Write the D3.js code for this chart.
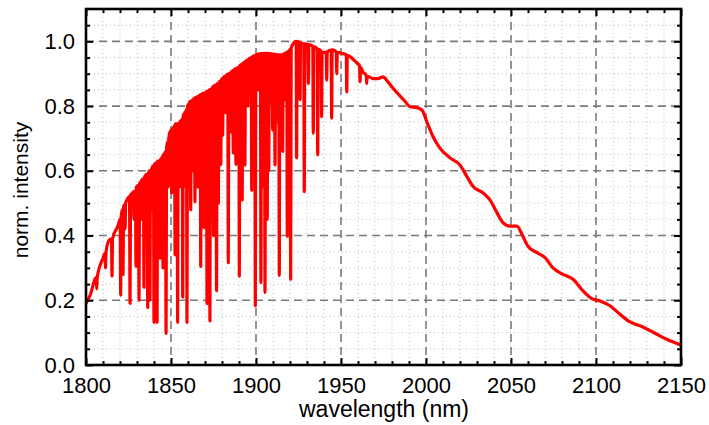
<!DOCTYPE html>
<html>
<head>
<meta charset="utf-8">
<script src="https://cdn.jsdelivr.net/npm/d3@7"></script>
<style>
  body { margin: 0; background: #fff; }
  svg { display: block; font-family: "Liberation Sans", Arial, sans-serif; }
</style>
</head>
<body>
<svg id="chart" width="709" height="425"></svg>
<script>
// spectrum: [wavelength nm, normalised intensity]
// absorption band region (water lines), dips written out point by point
const bandRegion = [
  [1800.0, 0.19], [1802.4, 0.215],
  [1806.0, 0.27], [1806.3, 0.235], [1806.6, 0.27],
  [1810.0, 0.33],
  [1811.2, 0.345], [1811.5, 0.30], [1811.8, 0.35],
  [1813.5, 0.385],
  [1815.0, 0.39], [1815.3, 0.275], [1815.6, 0.39],
  [1818.8, 0.43],
  [1820.1, 0.45], [1820.4, 0.216], [1820.7, 0.46],
  [1821.5, 0.48], [1821.8, 0.28], [1822.1, 0.49],
  [1822.7, 0.495], [1823.0, 0.42], [1823.3, 0.50],
  [1824.1, 0.51],
  [1825.6, 0.52], [1825.9, 0.19], [1826.2, 0.525],
  [1827.1, 0.53],
  [1827.9, 0.535], [1828.2, 0.45], [1828.5, 0.535],
  [1829.1, 0.54], [1829.4, 0.305], [1829.7, 0.55],
  [1830.9, 0.555], [1831.2, 0.20], [1831.5, 0.56],
  [1832.0, 0.565], [1832.3, 0.45], [1832.6, 0.57],
  [1833.8, 0.575], [1834.1, 0.24], [1834.4, 0.58],
  [1836.0, 0.59], [1836.3, 0.178], [1836.6, 0.59],
  [1837.3, 0.60], [1837.6, 0.20], [1837.9, 0.60],
  [1838.0, 0.60], [1838.3, 0.48], [1838.6, 0.605],
  [1839.7, 0.615], [1840.0, 0.132], [1840.3, 0.62],
  [1841.5, 0.625], [1841.8, 0.132], [1842.1, 0.63],
  [1842.4, 0.63], [1842.7, 0.50], [1843.0, 0.63],
  [1843.2, 0.63], [1843.5, 0.33], [1843.8, 0.635],
  [1844.7, 0.64],
  [1845.0, 0.645], [1845.3, 0.30], [1845.6, 0.65],
  [1845.8, 0.652], [1846.1, 0.50], [1846.4, 0.655],
  [1846.8, 0.66], [1847.1, 0.098], [1847.4, 0.67],
  [1848.1, 0.69], [1848.4, 0.55], [1848.7, 0.70],
  [1849.4, 0.72],
  [1850.1, 0.725], [1850.4, 0.532], [1850.7, 0.73],
  [1851.1, 0.732], [1851.4, 0.55], [1851.7, 0.735],
  [1852.1, 0.74], [1852.4, 0.34], [1852.7, 0.745],
  [1853.6, 0.745], [1853.9, 0.132], [1854.2, 0.745],
  [1854.5, 0.747], [1854.8, 0.55], [1855.1, 0.75],
  [1855.9, 0.755], [1856.2, 0.55], [1856.5, 0.758],
  [1856.6, 0.76], [1856.9, 0.21], [1857.2, 0.77],
  [1857.5, 0.775], [1857.8, 0.625], [1858.1, 0.78],
  [1858.4, 0.782], [1858.7, 0.55], [1859.0, 0.786],
  [1859.1, 0.79], [1859.4, 0.132], [1859.7, 0.80],
  [1860.2, 0.805], [1860.5, 0.55], [1860.8, 0.81],
  [1861.3, 0.815], [1861.6, 0.48], [1861.9, 0.815],
  [1862.5, 0.818], [1862.8, 0.60], [1863.1, 0.82],
  [1863.8, 0.825], [1864.1, 0.505], [1864.4, 0.825],
  [1864.9, 0.827], [1865.2, 0.55], [1865.5, 0.828],
  [1866.0, 0.83], [1866.3, 0.55], [1866.6, 0.832],
  [1867.2, 0.835], [1867.5, 0.305], [1867.8, 0.835],
  [1868.1, 0.837], [1868.4, 0.60], [1868.7, 0.838],
  [1869.1, 0.84], [1869.4, 0.425], [1869.7, 0.84],
  [1869.8, 0.84], [1870.1, 0.60], [1870.4, 0.842],
  [1870.9, 0.845], [1871.2, 0.19], [1871.5, 0.845],
  [1871.8, 0.847], [1872.1, 0.60], [1872.4, 0.848],
  [1872.6, 0.85], [1872.9, 0.136], [1873.2, 0.85],
  [1873.7, 0.853], [1874.0, 0.60], [1874.3, 0.855],
  [1874.7, 0.86], [1875.0, 0.40], [1875.3, 0.862],
  [1876.5, 0.865], [1876.8, 0.23], [1877.1, 0.867],
  [1877.6, 0.87], [1877.9, 0.50], [1878.2, 0.873],
  [1879.0, 0.877], [1879.3, 0.62], [1879.6, 0.88],
  [1880.1, 0.885], [1880.4, 0.71], [1880.7, 0.887],
  [1881.7, 0.892], [1882.0, 0.78], [1882.3, 0.894],
  [1883.4, 0.898], [1883.7, 0.316], [1884.0, 0.90],
  [1884.9, 0.903], [1885.2, 0.72], [1885.5, 0.905],
  [1886.3, 0.91], [1886.6, 0.655], [1886.9, 0.91],
  [1887.9, 0.915], [1888.2, 0.62], [1888.5, 0.916],
  [1889.9, 0.92], [1890.2, 0.275], [1890.5, 0.925],
  [1891.6, 0.928], [1891.9, 0.51], [1892.2, 0.93],
  [1893.2, 0.935], [1893.5, 0.618], [1893.8, 0.938],
  [1895.0, 0.942], [1895.3, 0.80], [1895.6, 0.944],
  [1897.2, 0.95], [1897.5, 0.54], [1897.8, 0.952],
  [1898.3, 0.954], [1898.6, 0.70], [1898.9, 0.955],
  [1899.3, 0.957], [1899.6, 0.183], [1899.9, 0.958],
  [1900.8, 0.96], [1901.1, 0.85], [1901.4, 0.96],
  [1902.6, 0.962], [1902.9, 0.255], [1903.2, 0.962],
  [1903.8, 0.962], [1904.1, 0.55], [1904.4, 0.962],
  [1905.0, 0.963], [1905.3, 0.224], [1905.6, 0.963],
  [1906.3, 0.963], [1906.6, 0.45], [1906.9, 0.963],
  [1907.2, 0.963], [1907.5, 0.60], [1907.8, 0.962],
  [1908.3, 0.962], [1908.6, 0.81], [1908.9, 0.962],
  [1909.5, 0.961], [1909.8, 0.726], [1910.1, 0.961],
  [1910.9, 0.96], [1911.2, 0.618], [1911.5, 0.96],
  [1912.1, 0.959], [1912.4, 0.75], [1912.7, 0.959],
  [1913.4, 0.958], [1913.7, 0.277], [1914.0, 0.958],
  [1915.4, 0.958], [1915.7, 0.66], [1916.0, 0.96],
  [1916.7, 0.962], [1917.0, 0.82], [1917.3, 0.963],
  [1918.1, 0.965], [1918.4, 0.398], [1918.7, 0.968],
  [1919.1, 0.97], [1919.4, 0.72], [1919.7, 0.972],
  [1920.1, 0.975], [1920.4, 0.265], [1920.7, 0.98],
  [1923.5, 1.0],
  [1923.6, 1.0], [1923.9, 0.64], [1924.2, 1.0],
  [1925.6, 0.996], [1925.9, 0.82], [1926.2, 0.995],
  [1928.1, 0.993], [1928.4, 0.536], [1928.7, 0.992],
  [1930.5, 0.99], [1930.8, 0.87], [1931.1, 0.99],
  [1933.4, 0.985], [1933.7, 0.716], [1934.0, 0.984],
  [1936.0, 0.977], [1936.3, 0.65], [1936.6, 0.975],
  [1938.3, 0.97], [1938.6, 0.767], [1938.9, 0.967],
  [1941.3, 0.966], [1941.6, 0.88], [1941.9, 0.968],
  [1944.2, 0.973], [1944.5, 0.763], [1944.8, 0.974],
  [1947.2, 0.968], [1947.5, 0.90], [1947.8, 0.966],
  [1951.2, 0.962],
  [1953.1, 0.958], [1953.4, 0.844], [1953.7, 0.957],
  [1957.1, 0.945], [1960.0, 0.93],
  [1960.9, 0.925], [1961.2, 0.875], [1961.5, 0.92],
  [1962.9, 0.905],
  [1964.8, 0.895], [1965.1, 0.87], [1965.4, 0.893]
];

// smooth falling tail
const tailRegion = [
  [1968.8, 0.885], [1971.8, 0.885], [1974.7, 0.89], [1977.6, 0.875],
  [1980.6, 0.855], [1984.1, 0.835], [1987.6, 0.815], [1990.6, 0.798],
  [1994.1, 0.796], [1997.6, 0.788], [2000.6, 0.75], [2004.1, 0.706],
  [2008.2, 0.67], [2014.1, 0.64], [2020.0, 0.618], [2024.1, 0.582],
  [2027.6, 0.552], [2033.5, 0.532], [2037.6, 0.51], [2041.8, 0.47],
  [2045.3, 0.44], [2049.4, 0.429], [2053.5, 0.429], [2056.5, 0.403],
  [2060.0, 0.367], [2065.3, 0.347], [2070.0, 0.332], [2074.7, 0.30],
  [2080.6, 0.28], [2086.5, 0.265], [2092.4, 0.229], [2097.6, 0.205],
  [2102.4, 0.198], [2108.2, 0.183], [2114.1, 0.157], [2120.0, 0.133],
  [2125.9, 0.121], [2131.8, 0.106], [2137.6, 0.09], [2143.5, 0.075],
  [2150.0, 0.062]
];

const xTicks = [1800, 1850, 1900, 1950, 2000, 2050, 2100, 2150];
const yTicks = [0.0, 0.2, 0.4, 0.6, 0.8, 1.0];
const xLabel = 'wavelength (nm)';
const yLabel = 'norm. intensity';

const spectrum = bandRegion.concat(tailRegion);

const svg = d3.select('#chart');
const pLeft = 86, pRight = 681, pTop = 9, pBottom = 365;
const font = '"Liberation Sans", Arial, sans-serif';

const x = d3.scaleLinear().domain([1800, 2150]).range([pLeft, pRight]);
const y = d3.scaleLinear().domain([0, 1.1]).range([pBottom, pTop]);

// minor ticks every 10 nm / 0.05
const xMinor = d3.range(1810, 2150, 10).filter((d) => d % 50 !== 0);
const yMinor = d3.range(0.05, 1.1, 0.05).map((d) => +d.toFixed(2))
  .filter((d) => Math.abs(d * 5 - Math.round(d * 5)) > 1e-6);

// dotted minor grid
const grid = svg.append('g');
grid.selectAll('.mgx').data(xMinor).join('line')
  .attr('x1', (d) => x(d)).attr('x2', (d) => x(d))
  .attr('y1', pTop).attr('y2', pBottom)
  .attr('stroke', '#bdbdbd').attr('stroke-width', 1).attr('stroke-dasharray', '1,3');
grid.selectAll('.mgy').data(yMinor).join('line')
  .attr('x1', pLeft).attr('x2', pRight)
  .attr('y1', (d) => y(d)).attr('y2', (d) => y(d))
  .attr('stroke', '#bdbdbd').attr('stroke-width', 1).attr('stroke-dasharray', '1,3');

// dashed major grid
grid.selectAll('.gx').data(xTicks.slice(1, -1)).join('line')
  .attr('x1', (d) => x(d)).attr('x2', (d) => x(d))
  .attr('y1', pTop).attr('y2', pBottom)
  .attr('stroke', '#7a7a7a').attr('stroke-width', 1.6).attr('stroke-dasharray', '8,5');
grid.selectAll('.gy').data(yTicks.slice(1)).join('line')
  .attr('x1', pLeft).attr('x2', pRight)
  .attr('y1', (d) => y(d)).attr('y2', (d) => y(d))
  .attr('stroke', '#7a7a7a').attr('stroke-width', 1.6).attr('stroke-dasharray', '8,5');

// the spectrum
svg.append('clipPath').attr('id', 'clip')
  .append('rect').attr('x', pLeft).attr('y', pTop)
  .attr('width', pRight - pLeft).attr('height', pBottom - pTop);

svg.append('path')
  .datum(spectrum)
  .attr('clip-path', 'url(#clip)')
  .attr('fill', 'none')
  .attr('stroke', '#ff0000')
  .attr('stroke-width', 3.2)
  .attr('stroke-linejoin', 'round')
  .attr('d', d3.line().curve(d3.curveMonotoneX).x((d) => x(d[0])).y((d) => y(d[1])));

// ticks on all four sides, pointing inward
const tickGroup = (axis, tx, ty) => {
  const g = svg.append('g').attr('transform', `translate(${tx},${ty})`).call(axis);
  g.select('.domain').remove();
  g.attr('font-family', font).attr('font-size', 22);
  g.selectAll('.tick line').attr('stroke', '#000').attr('stroke-width', 2);
  g.selectAll('.tick text').attr('fill', '#000');
  return g;
};

tickGroup(d3.axisBottom(x).tickValues(xTicks).tickSize(-7).tickPadding(12).tickFormat(d3.format('d')), 0, pBottom);
tickGroup(d3.axisBottom(x).tickValues(xMinor).tickSize(-4).tickFormat(''), 0, pBottom);
tickGroup(d3.axisTop(x).tickValues(xTicks).tickSize(-7).tickFormat(''), 0, pTop);
tickGroup(d3.axisTop(x).tickValues(xMinor).tickSize(-4).tickFormat(''), 0, pTop);

tickGroup(d3.axisLeft(y).tickValues(yTicks).tickSize(-7).tickPadding(11).tickFormat(d3.format('.1f')), pLeft, 0);
tickGroup(d3.axisLeft(y).tickValues(yMinor).tickSize(-4).tickFormat(''), pLeft, 0);
tickGroup(d3.axisRight(y).tickValues(yTicks).tickSize(-7).tickFormat(''), pRight, 0);
tickGroup(d3.axisRight(y).tickValues(yMinor).tickSize(-4).tickFormat(''), pRight, 0);

// frame
svg.append('rect')
  .attr('x', pLeft).attr('y', pTop)
  .attr('width', pRight - pLeft).attr('height', pBottom - pTop)
  .attr('fill', 'none').attr('stroke', '#000').attr('stroke-width', 2.6);

// axis titles
svg.append('text')
  .attr('x', 384).attr('y', 417)
  .attr('text-anchor', 'middle').attr('font-size', 23)
  .text(xLabel);
svg.append('text')
  .attr('transform', `translate(28,190) rotate(-90)`)
  .attr('text-anchor', 'middle').attr('font-size', 21)
  .text(yLabel);
</script>
</body>
</html>
